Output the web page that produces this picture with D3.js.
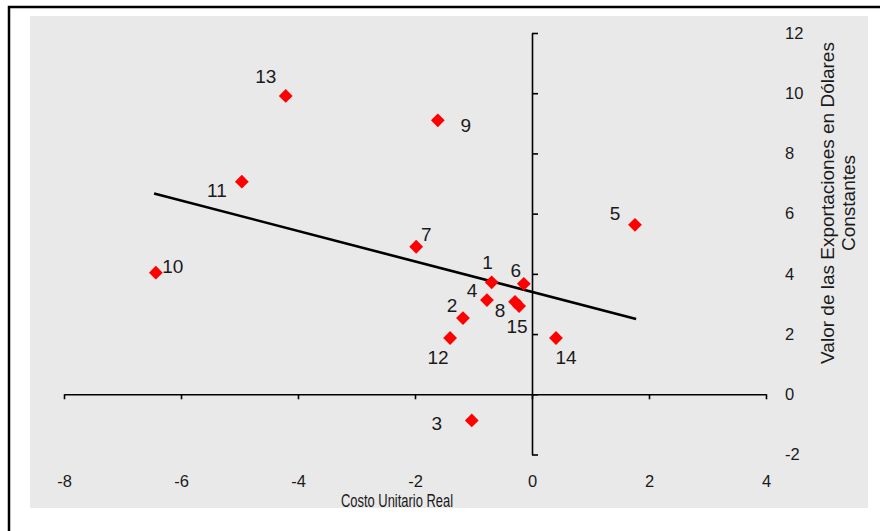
<!DOCTYPE html>
<html>
<head>
<meta charset="utf-8">
<script src="https://cdn.jsdelivr.net/npm/d3@7"></script>
<style>
  body { margin: 0; background: #fff; }
  svg { display: block; font-family: "Liberation Sans", Arial, sans-serif; }
</style>
</head>
<body>
<svg width="880" height="531"></svg>
<script>
// series: country id, real unit cost change (x), export value change (y)
const ids    = ['1','2','3','4','5','6','7','8','9','10','11','12','13','14','15'];
const costoX = [-0.69, -1.18, -1.03, -0.77, 1.76, -0.14, -1.98, -0.29, -1.61, -6.43, -4.96, -1.40, -4.21, 0.41, -0.22];
const exportY = [3.72, 2.53, -0.87, 3.13, 5.63, 3.67, 4.90, 3.07, 9.10, 4.04, 7.06, 1.87, 9.91, 1.87, 2.93];

// fitted line at its two ends
const trendX = [-6.46, 1.78],
      trendY = [6.67, 2.50];

const xTicks = [-8, -6, -4, -2, 0, 2, 4],
      yTicks = [-2, 0, 2, 4, 6, 8, 10, 12];

const xTitle = 'Costo Unitario Real',
      yTitle = ['Valor de las Exportaciones en Dólares', 'Constantes'];

// where each number sits around its marker (layout only)
const labelOffsets = [
  [-4,-20], [-11,-13], [-35,3], [-15,-10], [-20,-12], [-8,-14], [10,-13], [-15,8],
  [28,5], [17,-6], [-25,8], [-12,19], [-20,-20], [10,19], [-2,20]
];

let svg = d3.select('svg');

let x = d3.scaleLinear().domain([-8, 4]).range([64, 766]);
let y = d3.scaleLinear().domain([-2, 12]).range([454.5, 33]);

// frame + grey plot area
svg.append('rect')
    .attr('x', 30).attr('y', 16)
    .attr('width', 838).attr('height', 492)
    .attr('fill', '#e9e9e9');

svg.append('path')
    .attr('d', 'M9,540 L9,7 L880,7')
    .attr('fill', 'none')
    .attr('stroke', '#000')
    .attr('stroke-width', 2.5);

// axis lines crossing at the origin
let gX = svg.append('g')
    .attr('transform', `translate(0,${y(0)})`)
    .call(d3.axisBottom(x).tickValues(xTicks).tickSize(5).tickSizeOuter(0).tickFormat(''));

let gY = svg.append('g')
    .attr('transform', `translate(${x(0)},0)`)
    .call(d3.axisRight(y).tickValues(yTicks).tickSize(6).tickSizeOuter(0).tickFormat(''));

[gX, gY].forEach(g => {
  g.selectAll('path, line').attr('stroke', '#000').attr('stroke-width', 1.6);
});

// tick labels sit at the plot edges, not on the axes
let xLabels = svg.append('g')
    .attr('transform', 'translate(0,475)')
    .call(d3.axisBottom(x).tickValues(xTicks).tickSize(0).tickPadding(0).tickFormat(d => String(d)));

let yLabels = svg.append('g')
    .attr('transform', 'translate(785,0)')
    .call(d3.axisRight(y).tickValues(yTicks).tickSize(0).tickPadding(0).tickFormat(d => String(d)));

[xLabels, yLabels].forEach(g => {
  g.select('.domain').remove();
  g.attr('font-family', null).attr('font-size', null);
  g.selectAll('text')
      .style('font-size', '16.5px')
      .attr('fill', '#1a1a1a');
});

// regression line
svg.append('path')
    .datum(d3.zip(trendX, trendY))
    .attr('d', d3.line().x(d => x(d[0])).y(d => y(d[1])))
    .attr('fill', 'none')
    .attr('stroke', '#000')
    .attr('stroke-width', 2.6);

// points
let pts = ids.map((id, i) => ({ id, cx: costoX[i], cy: exportY[i], off: labelOffsets[i] }));

svg.selectAll('path.pt')
    .data(pts)
    .enter().append('path')
    .attr('class', 'pt')
    .attr('d', d3.symbol().type(d3.symbolSquare).size(95))
    .attr('transform', d => `translate(${x(d.cx)},${y(d.cy)}) rotate(45)`)
    .attr('fill', '#ff0000');

svg.selectAll('text.pt-label')
    .data(pts)
    .enter().append('text')
    .attr('class', 'pt-label')
    .attr('x', d => x(d.cx) + d.off[0])
    .attr('y', d => y(d.cy) + d.off[1])
    .attr('dy', '0.36em')
    .attr('text-anchor', 'middle')
    .attr('font-size', 19)
    .attr('fill', '#1a1a1a')
    .text(d => d.id);

// axis titles (the source is squeezed sideways)
svg.append('text')
    .attr('transform', 'translate(397,507) scale(0.7,1)')
    .attr('text-anchor', 'middle')
    .attr('font-size', 18.5)
    .attr('fill', '#1a1a1a')
    .text(xTitle);

svg.selectAll('text.ytitle')
    .data(yTitle)
    .enter().append('text')
    .attr('class', 'ytitle')
    .attr('transform', (d, i) => `translate(${827 + i * 21},203) rotate(-90)`)
    .attr('dy', '0.36em')
    .attr('text-anchor', 'middle')
    .attr('font-size', 19)
    .attr('fill', '#1a1a1a')
    .text(d => d);
</script>
</body>
</html>
